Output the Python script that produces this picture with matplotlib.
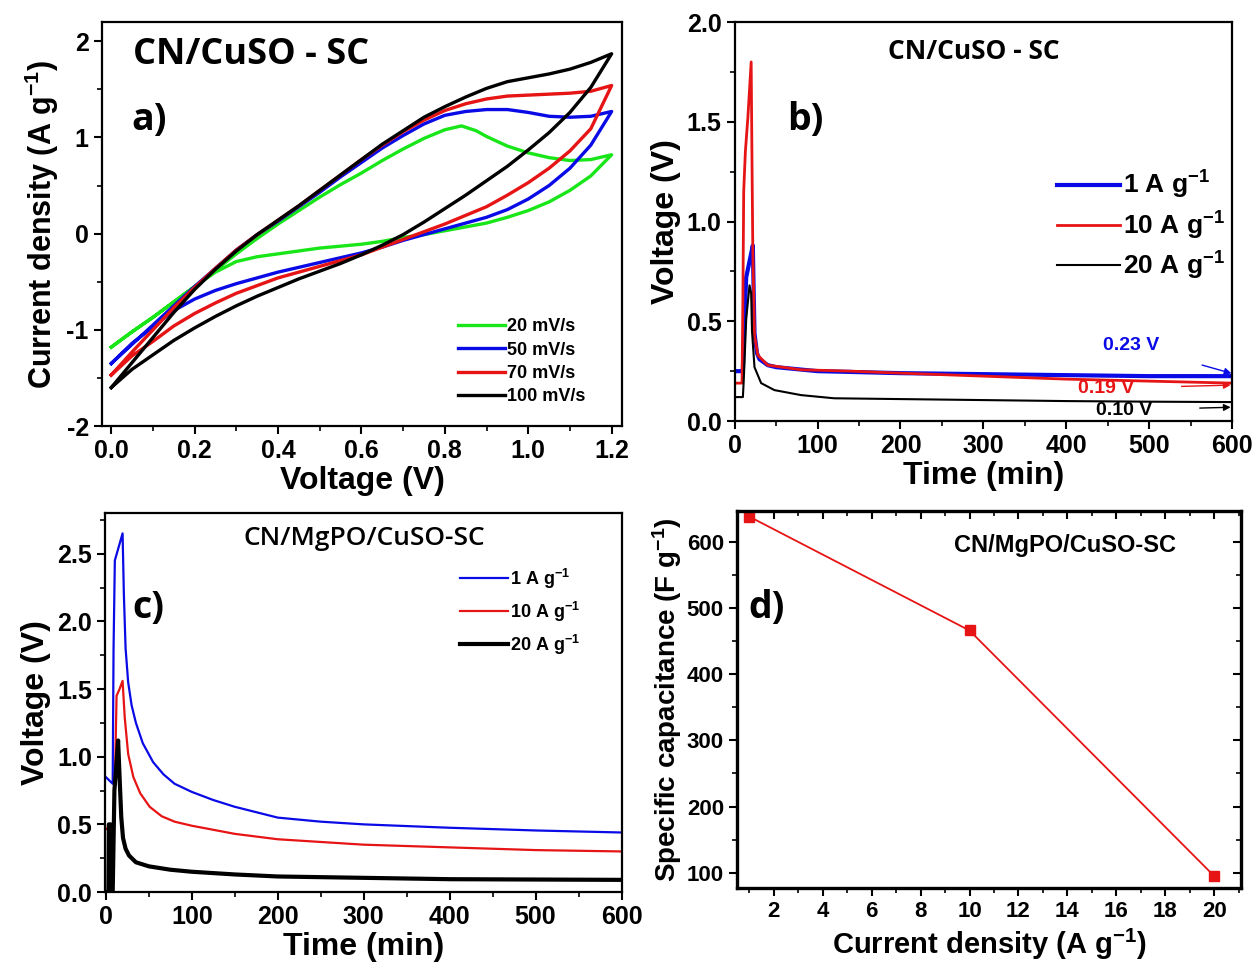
import numpy as np
import matplotlib
matplotlib.use("Agg")
import matplotlib.pyplot as plt
from matplotlib.ticker import MultipleLocator, FormatStrFormatter

plt.rcParams['font.family'] = ['Liberation Sans', 'DejaVu Sans']
plt.rcParams['font.weight'] = 'bold'
plt.rcParams['axes.labelweight'] = 'bold'
plt.rcParams['axes.unicode_minus'] = False
plt.rcParams['mathtext.fontset'] = 'custom'
plt.rcParams['mathtext.rm'] = 'Liberation Sans:bold'
plt.rcParams['mathtext.default'] = 'rm'

# ---- a) CV loops: anodic (upper) and cathodic (lower) branches vs voltage
cv_v = [0.0, 0.05, 0.1, 0.15, 0.2, 0.25, 0.3, 0.35, 0.4, 0.45, 0.5, 0.55, 0.6,
        0.65, 0.7, 0.75, 0.8, 0.85, 0.9, 0.95, 1.0, 1.05, 1.1, 1.15, 1.2]
cv_v_green_up = [0.0, 0.05, 0.1, 0.15, 0.2, 0.25, 0.3, 0.35, 0.4, 0.45, 0.5, 0.55, 0.6,
                 0.65, 0.7, 0.75, 0.8, 0.84, 0.875, 0.9, 0.95, 1.0, 1.05, 1.1, 1.15, 1.2]
cv_labels = ['20 mV/s', '50 mV/s', '70 mV/s', '100 mV/s']
cv_colors = ['#19e619', '#0a0ae6', '#e61414', 'black']

up_20 = [-1.18, -1.02, -0.87, -0.71, -0.55, -0.38, -0.21, -0.05, 0.10, 0.24, 0.38, 0.51, 0.63,
         0.76, 0.88, 0.99, 1.08, 1.12, 1.07, 1.01, 0.91, 0.84, 0.79, 0.76, 0.77, 0.82]
lo_20 = [-1.18, -1.02, -0.87, -0.71, -0.55, -0.40, -0.29, -0.24, -0.21, -0.18, -0.15, -0.13, -0.11,
         -0.08, -0.04, -0.01, 0.03, 0.07, 0.11, 0.17, 0.24, 0.33, 0.45, 0.60, 0.82]
up_50 = [-1.35, -1.15, -0.95, -0.75, -0.55, -0.36, -0.17, -0.01, 0.13, 0.28, 0.43, 0.59, 0.74,
         0.89, 1.02, 1.14, 1.23, 1.27, 1.29, 1.29, 1.26, 1.22, 1.21, 1.22, 1.27]
lo_50 = [-1.35, -1.14, -0.97, -0.80, -0.68, -0.59, -0.52, -0.46, -0.40, -0.35, -0.30, -0.25, -0.20,
         -0.14, -0.07, -0.01, 0.05, 0.11, 0.17, 0.25, 0.36, 0.50, 0.68, 0.92, 1.27]
up_70 = [-1.47, -1.23, -1.00, -0.77, -0.56, -0.36, -0.17, -0.01, 0.14, 0.29, 0.45, 0.61, 0.77,
         0.92, 1.06, 1.18, 1.28, 1.35, 1.40, 1.43, 1.44, 1.45, 1.46, 1.48, 1.54]
lo_70 = [-1.47, -1.27, -1.12, -0.96, -0.83, -0.72, -0.62, -0.54, -0.46, -0.40, -0.34, -0.28, -0.22,
         -0.14, -0.06, 0.02, 0.10, 0.19, 0.28, 0.40, 0.53, 0.68, 0.86, 1.09, 1.54]
up_100 = [-1.60, -1.34, -1.08, -0.82, -0.58, -0.37, -0.18, -0.01, 0.14, 0.29, 0.45, 0.61, 0.77,
          0.93, 1.07, 1.21, 1.32, 1.42, 1.51, 1.58, 1.62, 1.66, 1.71, 1.78, 1.87]
lo_100 = [-1.60, -1.41, -1.26, -1.11, -0.98, -0.86, -0.75, -0.65, -0.56, -0.47, -0.39, -0.31, -0.22,
          -0.12, -0.01, 0.12, 0.26, 0.40, 0.55, 0.70, 0.87, 1.05, 1.26, 1.52, 1.87]
cv_up_v = [cv_v_green_up, cv_v, cv_v, cv_v]
cv_up = [up_20, up_50, up_70, up_100]
cv_lo = [lo_20, lo_50, lo_70, lo_100]

# ---- b) CN/CuSO-SC charge/discharge
b_t1 = [0, 10, 11, 14, 18, 22, 23, 24, 27, 30, 40, 50, 75, 100, 150, 200, 300, 400, 500, 600]
b_v1 = [0.25, 0.25, 0.40, 0.72, 0.80, 0.88, 0.65, 0.44, 0.34, 0.31, 0.28, 0.27, 0.26, 0.25, 0.245, 0.24, 0.235, 0.23, 0.225, 0.225]
b_t10 = [0, 9, 10, 11, 13, 16, 20, 21, 22, 24, 28, 40, 80, 140, 200, 300, 400, 500, 600]
b_v10 = [0.19, 0.19, 0.60, 1.15, 1.35, 1.52, 1.80, 1.30, 0.85, 0.43, 0.33, 0.28, 0.257, 0.25, 0.24, 0.225, 0.21, 0.20, 0.19]
b_t20 = [0, 10, 11, 14, 18, 20, 21, 24, 32, 48, 80, 120, 200, 300, 400, 500, 600]
b_v20 = [0.12, 0.12, 0.20, 0.51, 0.68, 0.64, 0.45, 0.27, 0.19, 0.155, 0.13, 0.114, 0.11, 0.105, 0.10, 0.097, 0.095]
b_labels = ['1 A g$^{-1}$', '10 A g$^{-1}$', '20 A g$^{-1}$']
b_notes = ['0.23 V', '0.19 V', '0.10 V']

# ---- c) CN/MgPO/CuSO-SC charge/discharge
c_t1 = [0, 8, 9, 10.5, 15, 19.5, 21, 23, 26, 30, 35, 43, 55, 67, 80, 100, 125, 150, 200, 250, 300, 400, 500, 600]
c_v1 = [0.85, 0.80, 1.80, 2.45, 2.55, 2.65, 2.20, 1.80, 1.55, 1.38, 1.25, 1.10, 0.96, 0.87, 0.80, 0.74, 0.68, 0.63, 0.55, 0.52, 0.50, 0.475, 0.455, 0.44]
c_t10 = [0, 8.5, 10.5, 12.5, 16, 19.5, 22, 26, 32, 40, 51, 65, 80, 100, 150, 200, 300, 400, 500, 600]
c_v10 = [0.47, 0.44, 0.78, 1.45, 1.50, 1.56, 1.29, 1.02, 0.85, 0.73, 0.63, 0.56, 0.52, 0.49, 0.43, 0.39, 0.35, 0.33, 0.31, 0.30]
c_t20 = [0, 3, 3.5, 5.5, 6, 8, 10, 14.3, 16, 18, 20, 23, 27, 35, 50, 75, 100, 150, 200, 300, 400, 600]
c_v20 = [0.0, 0.0, 0.5, 0.5, 0.0, 0.0, 0.75, 1.12, 0.85, 0.55, 0.40, 0.32, 0.27, 0.22, 0.19, 0.165, 0.15, 0.13, 0.115, 0.105, 0.095, 0.09]

# ---- d) specific capacitance vs current density
cur_density = [1, 10, 20]
capacitance = [638, 466, 95]

fig = plt.figure(figsize=(12.6, 9.65), dpi=100)
ax_a = fig.add_axes([0.081, 0.5585, 0.4127, 0.4187])
ax_b = fig.add_axes([0.583, 0.5637, 0.395, 0.4135])
ax_c = fig.add_axes([0.0833, 0.0756, 0.410, 0.3927])
ax_d = fig.add_axes([0.585, 0.0798, 0.400, 0.391])


def style(ax, tick_size=18, spine_w=1.6):
    for s in ax.spines.values():
        s.set_linewidth(spine_w)
    ax.tick_params(which='major', direction='out', length=6, width=1.5, labelsize=tick_size)
    ax.tick_params(which='minor', direction='out', length=3.5, width=1.2)


# a)
for vu, up, lo, col, lab in zip(cv_up_v, cv_up, cv_lo, cv_colors, cv_labels):
    xs = vu + cv_v[::-1]
    ys = up + lo[::-1]
    ax_a.plot(xs, ys, color=col, lw=2.4, label=lab)
ax_a.set_xlim(-0.022, 1.225)
ax_a.set_ylim(-2, 2.2)
ax_a.xaxis.set_major_locator(MultipleLocator(0.2))
ax_a.xaxis.set_minor_locator(MultipleLocator(0.1))
ax_a.yaxis.set_major_locator(MultipleLocator(1))
ax_a.yaxis.set_minor_locator(MultipleLocator(0.5))
ax_a.xaxis.set_major_formatter(FormatStrFormatter('%.1f'))
style(ax_a, 18)
ax_a.set_xlabel('Voltage (V)', fontsize=23, labelpad=2)
ax_a.set_ylabel('Current density (A g$^{-1}$)', fontsize=22, labelpad=4)
ax_a.text(0.287, 0.918, 'CN/CuSO - SC', transform=ax_a.transAxes, ha='center', va='center',
          fontsize=26, fontfamily='Open Sans', fontweight='bold')
ax_a.text(0.09, 0.757, 'a)', transform=ax_a.transAxes, ha='center', va='center',
          fontsize=27, fontfamily='Open Sans', fontweight='bold')
ax_a.legend(loc='lower left', bbox_to_anchor=(0.66, 0.02), frameon=False, fontsize=13,
            handlelength=2.6, handletextpad=0.1, labelspacing=0.35, borderpad=0.2)

# b)
ax_b.plot(b_t1, b_v1, color='#0a0ae6', lw=3, label=b_labels[0])
ax_b.plot(b_t10, b_v10, color='#e61414', lw=2, label=b_labels[1])
ax_b.plot(b_t20, b_v20, color='black', lw=1.5, label=b_labels[2])
ax_b.set_xlim(0, 600)
ax_b.set_ylim(0, 2.0)
ax_b.xaxis.set_major_locator(MultipleLocator(100))
ax_b.xaxis.set_minor_locator(MultipleLocator(50))
ax_b.yaxis.set_major_locator(MultipleLocator(0.5))
ax_b.yaxis.set_minor_locator(MultipleLocator(0.25))
ax_b.yaxis.set_major_formatter(FormatStrFormatter('%.1f'))
style(ax_b, 18)
ax_b.set_xlabel('Time (min)', fontsize=23, labelpad=2)
ax_b.set_ylabel('Voltage (V)', fontsize=23, labelpad=4)
ax_b.text(0.48, 0.926, 'CN/CuSO - SC', transform=ax_b.transAxes, ha='center', va='center',
          fontsize=19, fontfamily='Open Sans', fontweight='bold')
ax_b.text(0.143, 0.754, 'b)', transform=ax_b.transAxes, ha='center', va='center',
          fontsize=27, fontfamily='Open Sans', fontweight='bold')
ax_b.legend(loc='center left', bbox_to_anchor=(0.60, 0.49), frameon=False, fontsize=19,
            handlelength=2.4, handletextpad=0.1, labelspacing=0.3)
ax_b.annotate(b_notes[0], xy=(599, 0.239), xytext=(478, 0.381), color='#0a0ae6', fontsize=14,
              ha='center', va='center',
              arrowprops=dict(arrowstyle='-|>', color='#0a0ae6', lw=1, mutation_scale=10,
                              shrinkA=30, shrinkB=0))
ax_b.annotate(b_notes[1], xy=(598, 0.18), xytext=(448, 0.164), color='#e61414', fontsize=14,
              ha='center', va='center',
              arrowprops=dict(arrowstyle='-|>', color='#e61414', lw=1, mutation_scale=10,
                              shrinkA=32, shrinkB=0))
ax_b.annotate(b_notes[2], xy=(598, 0.069), xytext=(470, 0.055), color='black', fontsize=14,
              ha='center', va='center',
              arrowprops=dict(arrowstyle='-|>', color='black', lw=1, mutation_scale=10,
                              shrinkA=32, shrinkB=0))

# c)
ax_c.plot(c_t1, c_v1, color='#0a0ae6', lw=1.6, label=b_labels[0])
ax_c.plot(c_t10, c_v10, color='#e61414', lw=1.6, label=b_labels[1])
ax_c.plot(c_t20, c_v20, color='black', lw=3, label=b_labels[2])
ax_c.set_xlim(-1, 600)
ax_c.set_ylim(0, 2.8)
ax_c.xaxis.set_major_locator(MultipleLocator(100))
ax_c.xaxis.set_minor_locator(MultipleLocator(50))
ax_c.yaxis.set_major_locator(MultipleLocator(0.5))
ax_c.yaxis.set_minor_locator(MultipleLocator(0.25))
ax_c.yaxis.set_major_formatter(FormatStrFormatter('%.1f'))
style(ax_c, 18)
ax_c.set_xlabel('Time (min)', fontsize=23, labelpad=2)
ax_c.set_ylabel('Voltage (V)', fontsize=23, labelpad=4)
ax_c.text(0.503, 0.934, 'CN/MgPO/CuSO-SC', transform=ax_c.transAxes, ha='center', va='center',
          fontsize=19, fontfamily='Open Sans', fontweight='semibold')
ax_c.text(0.085, 0.749, 'c)', transform=ax_c.transAxes, ha='center', va='center',
          fontsize=27, fontfamily='Open Sans', fontweight='bold')
ax_c.legend(loc='center left', bbox_to_anchor=(0.655, 0.74), frameon=False, fontsize=13,
            handlelength=2.7, handletextpad=0.1, labelspacing=0.5)

# d)
ax_d.plot(cur_density, capacitance, color='#e61414', lw=1.3, marker='s', markersize=7)
ax_d.set_xlim(0.5, 21.1)
ax_d.set_ylim(77, 647)
ax_d.xaxis.set_major_locator(MultipleLocator(2))
ax_d.xaxis.set_minor_locator(MultipleLocator(1))
ax_d.yaxis.set_major_locator(MultipleLocator(100))
ax_d.yaxis.set_minor_locator(MultipleLocator(50))
style(ax_d, 16, 2.4)
# inward ticks mirrored on the top and right spines
top = ax_d.secondary_xaxis('top')
top.xaxis.set_major_locator(MultipleLocator(2))
top.xaxis.set_minor_locator(MultipleLocator(1))
top.tick_params(which='major', direction='in', length=6, width=1.5, labeltop=False)
top.tick_params(which='minor', direction='in', length=3.5, width=1.2)
right = ax_d.secondary_yaxis('right')
right.yaxis.set_major_locator(MultipleLocator(100))
right.yaxis.set_minor_locator(MultipleLocator(50))
right.tick_params(which='major', direction='in', length=6, width=1.5, labelright=False)
right.tick_params(which='minor', direction='in', length=3.5, width=1.2)
ax_d.set_xlabel('Current density (A g$^{-1}$)', fontsize=21, labelpad=3)
ax_d.set_ylabel('Specific capacitance (F g$^{-1}$)', fontsize=20, labelpad=2)
ax_d.text(0.65, 0.908, 'CN/MgPO/CuSO-SC', transform=ax_d.transAxes, ha='center', va='center',
          fontsize=17, fontweight='bold')
ax_d.text(0.0585, 0.741, 'd)', transform=ax_d.transAxes, ha='center', va='center',
          fontsize=27, fontfamily='Open Sans', fontweight='bold')

# bold tick labels once the ticks exist
fig.canvas.draw()
for ax in (ax_a, ax_b, ax_c, ax_d):
    for lab in ax.get_xticklabels() + ax.get_yticklabels():
        lab.set_fontweight('bold')

fig.savefig('out.png', dpi=100)
